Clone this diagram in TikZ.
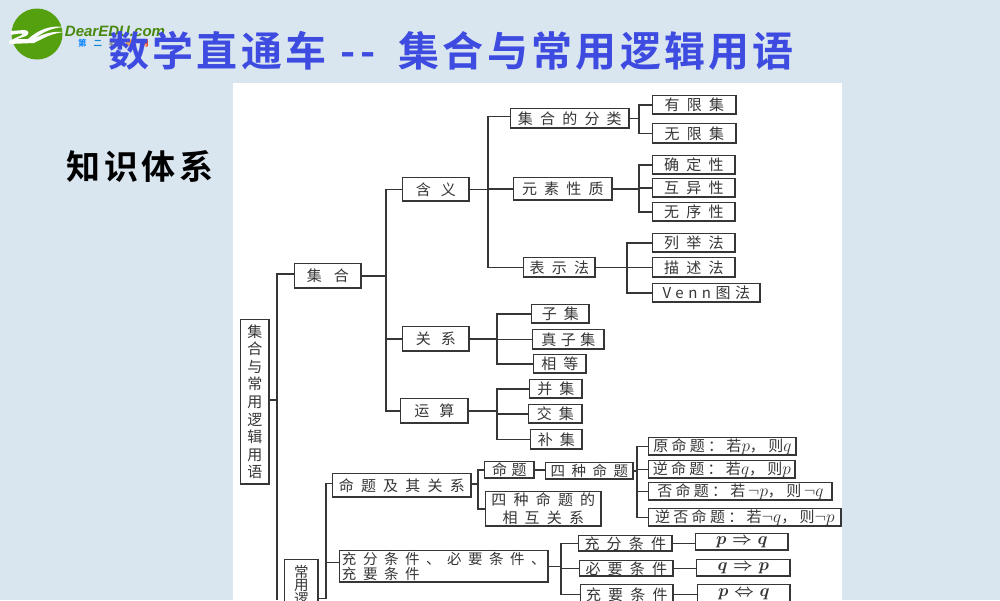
\documentclass[tikz,border=0pt]{standalone}
\usepackage{fontspec}
\setmainfont{Noto Sans CJK SC}
\newfontfamily\titlefont[LetterSpace=8]{Noto Sans CJK SC Bold}
\newfontfamily\headfont[LetterSpace=10]{Noto Sans CJK SC Bold}
\newfontfamily\boxfont[LetterSpace=48]{Noto Sans CJK SC}
\newfontfamily\nrwfont[LetterSpace=45]{Noto Sans CJK SC}
\newfontfamily\tightfont[LetterSpace=22]{Noto Sans CJK SC}
\newfontfamily\vennfont[LetterSpace=30]{Noto Sans CJK SC}
\newfontfamily\rootfont{Noto Sans CJK SC}
\definecolor{bgc}{HTML}{D9E5EF}
\definecolor{ink}{HTML}{363636}
\definecolor{titleblue}{HTML}{3E4BE0}
\definecolor{logogreen}{HTML}{55A00F}
\tikzset{
  conn/.style={draw=ink,line width=1.6pt},
  boxn/.style={draw=ink,line width=1.5pt,outer sep=0pt,fill=white,inner sep=0pt,text=ink,font=\boxfont\fontsize{15}{15}\selectfont},
  tightn/.style={font=\tightfont\fontsize{15}{15}\selectfont},
  plainn/.style={font=\rootfont\fontsize{15}{15}\selectfont},
  vennn/.style={font=\vennfont\fontsize{15}{15}\selectfont},
  mathn/.style={font=\boldmath\fontsize{16.5}{16.5}\selectfont}
}
\newcommand{\bxn}[7][]{\node[boxn,#1,minimum width=#5pt-#3pt-0.7pt,minimum height=#6pt-#4pt-0.7pt,anchor=north west] (#2) at (#3+0.7,#4+0.7) {#7};}
\newcommand{\mv}[1]{{\fontsize{18}{15}\selectfont$#1$}}
\begin{document}
\begin{tikzpicture}[x=1pt,y=-1pt]
\useasboundingbox (0,0) rectangle (1000,600);
\clip (0,0) rectangle (1000,600);
\fill[bgc] (0,0) rectangle (1000,600);
\fill[white] (233,83) rectangle (842,600);
% logo
\fill[logogreen] (37,34) circle (25.5);
\fill[white!90!bgc] (11,31) -- (24,30) .. controls (29,30) and (30,34) .. (26,36) -- (17,39) -- (28,39) .. controls (38,30) and (50,25) .. (64,27) .. controls (50,28) and (42,33) .. (34,39) .. controls (44,33) and (54,31) .. (65,32) .. controls (52,33) and (44,38) .. (34,43) -- (9,44) -- (9,41) -- (22,35) .. controls (24,33) and (20,33) .. (11,35) -- cycle;
\node[text=logogreen!85!black,font={\fontspec{Liberation Sans Bold Italic}\fontsize{15}{15}\selectfont}] (logotext) at (115,31) {DearEDU.com};
\node[anchor=west,inner sep=0pt,font={\fontspec{Noto Sans CJK SC Bold}\fontsize{8.5}{9}\selectfont}] (logosub) at (78,43) {\textcolor{blue!50!cyan}{第}\hspace{7pt}\textcolor{cyan!70!blue}{二}\hspace{7pt}\textcolor{gray}{教}\hspace{7pt}\textcolor{orange}{育}\hspace{7pt}\textcolor{red!60!orange}{网}};
% x positions of the trunks
\coordinate (xA) at (386,0);
\coordinate (xB) at (488,0);
\coordinate (xC) at (639,0);
\coordinate (xE) at (627,0);
\coordinate (xF) at (497,0);
\coordinate (xJ) at (637,0);
\coordinate (xK) at (561,0);
\coordinate (j0) at (277,400);
\coordinate (jH) at (326,598.5);
\coordinate (jI) at (478,484);
% nodes
\bxn[align=center,font=\rootfont\fontsize{15}{17.6}\selectfont]{root}{240}{319}{269}{484}{集\\合\\与\\常\\用\\逻\\辑\\用\\语}
\bxn[plainn]{a1}{294}{263}{361}{288}{集\hspace{12pt}合}
\bxn[plainn]{b1}{402}{177}{469}{201}{含\hspace{10pt}义}
\bxn[plainn]{b2}{402}{326}{469}{351}{关\hspace{10pt}系}
\bxn[plainn]{b3}{400}{398}{468}{423}{运\hspace{10pt}算}
\bxn{c1}{510}{108}{629}{128}{集合的分类}
\bxn{c2}{513}{177}{612}{200}{元素性质}
\bxn{c3}{523}{257}{595}{277}{表示法}
\bxn{d1}{652}{95}{736}{114}{有限集}
\bxn{d2}{652}{123}{736}{143}{无限集}
\bxn{d3}{652}{155}{735}{174}{确定性}
\bxn{d4}{652}{178}{735}{197}{互异性}
\bxn{d5}{652}{202}{735}{221}{无序性}
\bxn{d6}{652}{233}{735}{252}{列举法}
\bxn{d7}{652}{257}{735}{277}{描述法}
\bxn[vennn]{d8}{652}{283}{760}{302}{Venn图法}
\bxn{e1}{531}{304}{589}{323}{子集}
\bxn[vennn]{e2}{532}{329}{604}{349}{真子集}
\bxn{e3}{533}{354}{586}{373}{相等}
\bxn{f1}{529}{379}{582}{398}{并集}
\bxn{f2}{528}{404}{582}{423}{交集}
\bxn{f3}{530}{429}{582}{449}{补集}
\bxn{g1}{332}{473}{471}{497}{命题及其关系}
\bxn[vennn]{h1}{484}{461}{534}{478}{命题}
\bxn[font=\nrwfont\fontsize{14.5}{15}\selectfont]{h2}{545}{462}{633}{479}{四种命题}
\bxn[align=center,font=\boxfont\fontsize{15}{18}\selectfont]{h3}{485}{491}{601}{526}{四种命题的\\相互关系}
\bxn[tightn]{i1}{648}{437}{796}{455}{原命题：若\mv{p}，则\mv{q}}
\bxn[tightn]{i2}{648}{460}{795}{478}{逆命题：若\mv{q}，则\mv{p}}
\bxn[tightn]{i3}{648}{482}{832}{500}{否命题：若\,\mv{\neg p}，则\,\mv{\neg q}}
\bxn[tightn]{i4}{648}{508}{841}{526}{逆否命题：若\mv{\neg q}，则\mv{\neg p}}
\bxn[align=left,font=\nrwfont\fontsize{14.5}{13}\selectfont]{k0}{339}{550}{548}{582}{充分条件、必要条件、\\充要条件}
\bxn{l1}{578}{535}{672}{551}{充分条件}
\bxn{l2}{579}{560}{673}{576}{必要条件}
\bxn{l3}{580}{584}{673}{604}{充要条件}
\bxn[mathn]{m1}{695}{533}{788}{550}{$p\Rightarrow q$}
\bxn[mathn]{m2}{696}{559}{790}{576}{$q\Rightarrow p$}
\bxn[mathn]{m3}{697}{584}{790}{604}{$p\Leftrightarrow q$}
\bxn[align=center,font=\rootfont\fontsize{14.5}{13}\selectfont]{k1}{284}{559}{318}{612}{常\\用\\逻}
% junctions level with their parent boxes
\coordinate (jA) at (a1.east -| xA);
\coordinate (jB) at (b1.east -| xB);
\coordinate (jC) at (c1.east -| xC);
\coordinate (jD) at (c2.east -| xC);
\coordinate (jE) at (c3.east -| xE);
\coordinate (jF) at (b2.east -| xF);
\coordinate (jG) at (b3.east -| xF);
\coordinate (jJ) at (h2.east -| xJ);
\coordinate (jK) at (k0.east -| xK);
% connectors
\draw[conn] (root.east |- j0) -- (j0);
\draw[conn] (j0) |- ([yshift=2pt]a1.west);
\draw[conn] (j0) -- (277,600);
\draw[conn] (a1.east) -- (jA);
\draw[conn] (jA) |- (b1.west);
\draw[conn] (jA) |- (b2.west);
\draw[conn] (jA) |- (b3.west);
\draw[conn] (b1.east) -- (jB);
\draw[conn] (jB) |- ([yshift=2pt]c1.west);
\draw[conn] (jB) |- (c2.west);
\draw[conn] (jB) |- (c3.west);
\draw[conn] (c1.east) -- (jC);
\draw[conn] (jC) |- (d1.west);
\draw[conn] (jC) |- (d2.west);
\draw[conn] (c2.east) -- (jD);
\draw[conn] (jD) |- (d3.west);
\draw[conn] (jD) |- (d4.west);
\draw[conn] (jD) |- (d5.west);
\draw[conn] (c3.east) -- (jE);
\draw[conn] (jE) |- (d6.west);
\draw[conn] (jE) |- (d7.west);
\draw[conn] (jE) |- (d8.west);
\draw[conn] (b2.east) -- (jF);
\draw[conn] (jF) |- (e1.west);
\draw[conn] (jF) |- (e2.west);
\draw[conn] (jF) |- (e3.west);
\draw[conn] (b3.east) -- (jG);
\draw[conn] (jG) |- (f1.west);
\draw[conn] (jG) |- (f2.west);
\draw[conn] (jG) |- (f3.west);
\draw[conn] (k1.east |- jH) -- (jH);
\draw[conn] (jH) |- ([yshift=2pt]g1.west);
\draw[conn] (jH) |- ([yshift=4pt]k0.west);
\draw[conn] (g1.east |- jI) -- (jI);
\draw[conn] (jI) |- (h1.west);
\draw[conn] (jI) |- (h3.west);
\draw[conn] (h1.east) -- (h1.east -| h2.west);
\draw[conn] (h2.east) -- (jJ);
\draw[conn] (jJ) |- (i1.west);
\draw[conn] (jJ) |- (i2.west);
\draw[conn] (jJ) |- (i3.west);
\draw[conn] (jJ) |- (i4.west);
\draw[conn] (k0.east) -- (jK);
\draw[conn] (jK) |- (l1.west);
\draw[conn] (jK) |- (l2.west);
\draw[conn] (jK) |- (l3.west);
\draw[conn] (l1.east) -- (l1.east -| m1.west);
\draw[conn] (l2.east) -- (l2.east -| m2.west);
\draw[conn] (l3.east) -- (l3.east -| m3.west);
% title & side label
\node[text=titleblue,font=\titlefont\fontsize{41}{41}\selectfont,anchor=base west,inner sep=0pt] (title) at (108,66) {数学直通车\hspace{14pt}-\hspace{5pt}-\hspace{23pt}集合与常用逻辑用语};
\node[text=black,font=\headfont\fontsize{34}{34}\selectfont,anchor=center] (side) at (140,166) {知识体系};
\end{tikzpicture}
\end{document}
